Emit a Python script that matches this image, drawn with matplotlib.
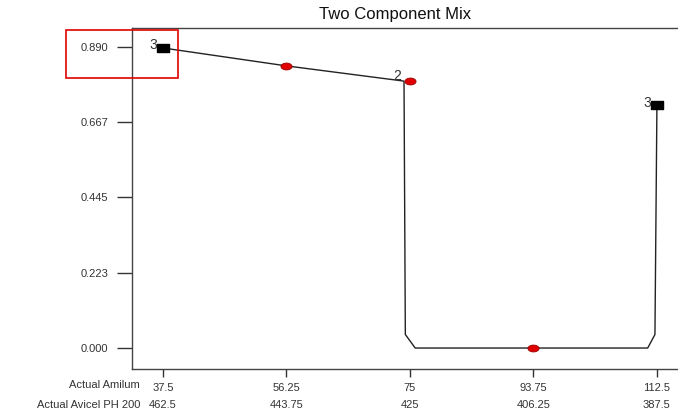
import matplotlib
matplotlib.use("Agg")
import matplotlib.pyplot as plt
from matplotlib.patches import Rectangle
from matplotlib.path import Path
import numpy as np

plt.rcParams['font.family'] = ['Liberation Sans', 'DejaVu Sans']

# Data
amilum_ticks = [37.5, 56.25, 75, 93.75, 112.5]
amilum_labels = ["37.5", "56.25", "75", "93.75", "112.5"]
avicel_labels = ["462.5", "443.75", "425", "406.25", "387.5"]
y_ticks = [0.000, 0.223, 0.445, 0.667, 0.890]
y_labels = ["0.000", "0.223", "0.445", "0.667", "0.890"]

line_x = [37.5, 56.25, 74.1, 74.3, 75.8, 111.1, 112.2, 112.5]
line_y = [0.887, 0.834, 0.789, 0.04, 0.0, 0.0, 0.04, 0.717]

square_x = [37.5, 112.5]
square_y = [0.887, 0.717]
square_labels = ["3", "3"]

dot_x = [56.25, 75, 93.75]
dot_y = [0.834, 0.789, 0.0]
dot_labels = ["", "2", ""]

# marker shapes
t = np.linspace(0, 2 * np.pi, 40)
ellipse = Path(np.column_stack([np.cos(t), 0.62 * np.sin(t)]), closed=True)
rect_marker = Path([(-1, -0.7), (1, -0.7), (1, 0.7), (-1, 0.7), (-1, -0.7)], closed=True)

fig = plt.figure(figsize=(6.78, 4.17), dpi=100)
W, H = 678, 417
left, right, top, bottom = 132, 678, 28, 369
ax = fig.add_axes([left / W, 1 - bottom / H, (right - left) / W, (bottom - top) / H])

ax.plot(line_x, line_y, color='#222222', lw=1.0, zorder=2)
ax.plot(square_x, square_y, linestyle='none', marker=rect_marker, markersize=8,
        color='black', zorder=3)
ax.plot(dot_x, dot_y, linestyle='none', marker=ellipse, markersize=8,
        markerfacecolor='#e00000', markeredgecolor='#990000', markeredgewidth=0.6, zorder=3)
for x, y, tx in zip(square_x, square_y, square_labels):
    ax.annotate(tx, (x, y), xytext=(-4.5, 2), textcoords='offset points',
                ha='right', va='center', fontsize=10, color='#333333')
for x, y, tx in zip(dot_x, dot_y, dot_labels):
    if tx:
        ax.annotate(tx, (x, y), xytext=(-6, -1), textcoords='offset points',
                    ha='right', va='bottom', fontsize=10, color='#333333')

ax.set_xlim(32.8, 115.7)
ax.set_ylim(-0.062, 0.946)

ax.set_yticks(y_ticks)
ax.set_yticklabels(y_labels, fontsize=8, color='#333333')
ax.set_xticks(amilum_ticks)
ax.set_xticklabels([a + "\n" + b for a, b in zip(amilum_labels, avicel_labels)],
                   fontsize=8, color='#333333', linespacing=1.9)
ax.tick_params(axis='y', length=11, width=1, direction='out', pad=6, color='#333333')
ax.tick_params(axis='x', length=6, width=1, direction='out', pad=4, color='#333333')

for s in ['left', 'top', 'bottom']:
    ax.spines[s].set_color('#444444')
    ax.spines[s].set_linewidth(1)
ax.spines['right'].set_visible(False)

fig.text(140 / W, 1 - 385 / H, "Actual Amilum", ha='right', va='center', fontsize=8, color='#333333')
fig.text(140 / W, 1 - 405 / H, "Actual Avicel PH 200", ha='right', va='center', fontsize=8, color='#333333')

fig.text(395 / W, 1 - 15 / H, "Two Component Mix", ha='center', va='center', fontsize=12, color='#111111')

rect = Rectangle((66 / W, 1 - 78 / H), 112 / W, 48 / H, transform=fig.transFigure,
                 fill=False, edgecolor='#e00000', lw=1.2, zorder=10)
fig.patches.append(rect)

fig.savefig("out.png", dpi=100)
